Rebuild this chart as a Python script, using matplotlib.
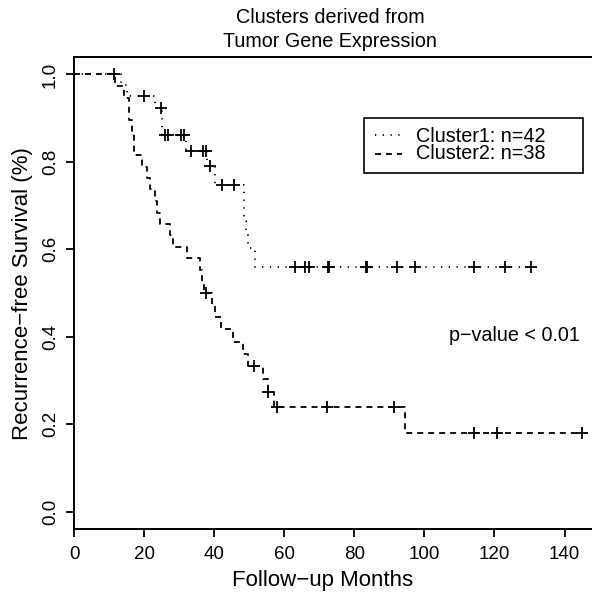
import matplotlib
matplotlib.use('Agg')
import matplotlib.pyplot as plt
import numpy as np
from matplotlib.lines import Line2D
from matplotlib.patches import Rectangle

# ---------------- data ----------------
c1_times = [0, 13.3, 15.0, 23.0, 25.2, 38.0, 40.3, 48.5, 49.1, 49.8, 51.6]
c1_surv = [1.0, 0.976, 0.951, 0.924, 0.862, 0.790, 0.746, 0.665, 0.633, 0.604, 0.559]
c1_end = 130.3
c1_censor = [11.4, 20.0, 24.7, 26.0, 26.7, 30.5, 31.3, 33.4, 36.9, 37.6, 38.8,
             42.2, 45.6, 63.1, 65.8, 67.0, 72.6, 72.8, 83.3, 83.5, 92.2, 97.4,
             114.1, 123.1, 130.3]

c2_times = [0, 11.6, 14.2, 15.8, 16.5, 17.2, 19.3, 20.9, 21.7, 23.1, 23.8, 24.6,
            27.4, 28.2, 32.2, 36.0, 36.6, 37.1, 39.3, 40.2, 42.0, 45.3, 48.3,
            49.7, 54.0, 55.4, 57.0, 94.6]
c2_surv = [1.0, 0.974, 0.947, 0.895, 0.868, 0.816, 0.789, 0.763, 0.737, 0.711,
           0.684, 0.658, 0.632, 0.605, 0.579, 0.553, 0.526, 0.500, 0.472, 0.444,
           0.417, 0.389, 0.361, 0.333, 0.303, 0.273, 0.239, 0.179]
c2_end = 145.0
c2_censor = [37.7, 51.4, 55.5, 57.9, 72.2, 91.2, 114.1, 120.8, 145.0]

# insert the 0.824 level for cluster 1 (drop at 32.1)
c1_times.insert(5, 32.1)
c1_surv.insert(5, 0.824)

legend_labels = ["Cluster1: n=42", "Cluster2: n=38"]
x_ticks = [0, 20, 40, 60, 80, 100, 120, 140]
y_ticks = [0.0, 0.2, 0.4, 0.6, 0.8, 1.0]
y_ticklabels = ["0.0", "0.2", "0.4", "0.6", "0.8", "1.0"]
title_lines = ["Clusters derived from", "Tumor Gene Expression"]
xlabel = "Follow\u2212up Months"
ylabel = "Recurrence\u2212free Survival (%)"
pvalue_text = "p\u2212value < 0.01"

# ---------------- style ----------------
plt.rcParams['font.family'] = ['Liberation Sans', 'DejaVu Sans']
plt.rcParams['lines.scale_dashes'] = False

W, H = 592, 596
fig = plt.figure(figsize=(W / 100, H / 100), dpi=100)
fx = lambda x: x / W
fy = lambda y: 1 - y / H

ax = fig.add_axes([fx(74), fy(529), 528 / W, 472 / H])
ax.set_xlim(0, 150.7)
ax.set_ylim(-0.04, 1.04)

DOT = (0, (0.9, 4.7))
DASH = (0, (4.3, 3.6))
LW = 1.3


def draw_curve(times, surv, end, censor, ls):
    t = list(times) + [end]
    s = list(surv) + [surv[-1]]
    ax.step(t, s, where='post', color='black', lw=LW, linestyle=ls,
            dash_capstyle='butt', solid_capstyle='butt')
    idx = np.searchsorted(np.array(times), np.array(censor), side='right') - 1
    cy = np.array(surv)[idx]
    ax.plot(censor, cy, linestyle='none', marker='+', color='black',
            markersize=8, markeredgewidth=1.3)


draw_curve(c1_times, c1_surv, c1_end, c1_censor, DOT)
draw_curve(c2_times, c2_surv, c2_end, c2_censor, DASH)

for sp in ax.spines.values():
    sp.set_linewidth(1.4)
ax.set_xticks(x_ticks)
ax.set_xticklabels([str(v) for v in x_ticks])
ax.set_yticks(y_ticks)
ax.set_yticklabels(y_ticklabels, rotation=90, va='center', ha='right')
ax.tick_params(axis='both', direction='out', length=5.8, width=1.3,
               labelsize=13.5, colors='black')
ax.tick_params(axis='x', pad=6.5)
ax.tick_params(axis='y', pad=5)

# titles and labels
fig.text(fx(330), fy(23.3), title_lines[0], ha='center', va='baseline', fontsize=14.2)
fig.text(fx(330), fy(46.7), title_lines[1], ha='center', va='baseline', fontsize=14.2)
fig.text(fx(323), fy(586), xlabel, ha='center', va='baseline', fontsize=16)
fig.text(fx(22.4), fy(294), ylabel, ha='center', va='center', rotation=90, fontsize=16)
fig.text(fx(449), fy(341), pvalue_text, ha='left', va='baseline', fontsize=14.2)

# legend (drawn manually to match R legend box)
fig.patches.append(Rectangle((fx(364), fy(173)), (583 - 364) / W, (173 - 118) / H,
                             transform=fig.transFigure, fill=False,
                             edgecolor='black', linewidth=1.2))
for i, (lab, ls) in enumerate(zip(legend_labels, [DOT, DASH])):
    ly = [134.5, 153.5][i]
    fig.lines.append(Line2D([fx(375), fx(402)], [fy(ly), fy(ly)],
                            transform=fig.transFigure, color='black', lw=LW,
                            linestyle=ls, dash_capstyle='butt'))
    fig.text(fx(416), fy([141.7, 159.3][i]), lab, ha='left', va='baseline',
             fontsize=14.2)

fig.savefig('out.png', dpi=100)
